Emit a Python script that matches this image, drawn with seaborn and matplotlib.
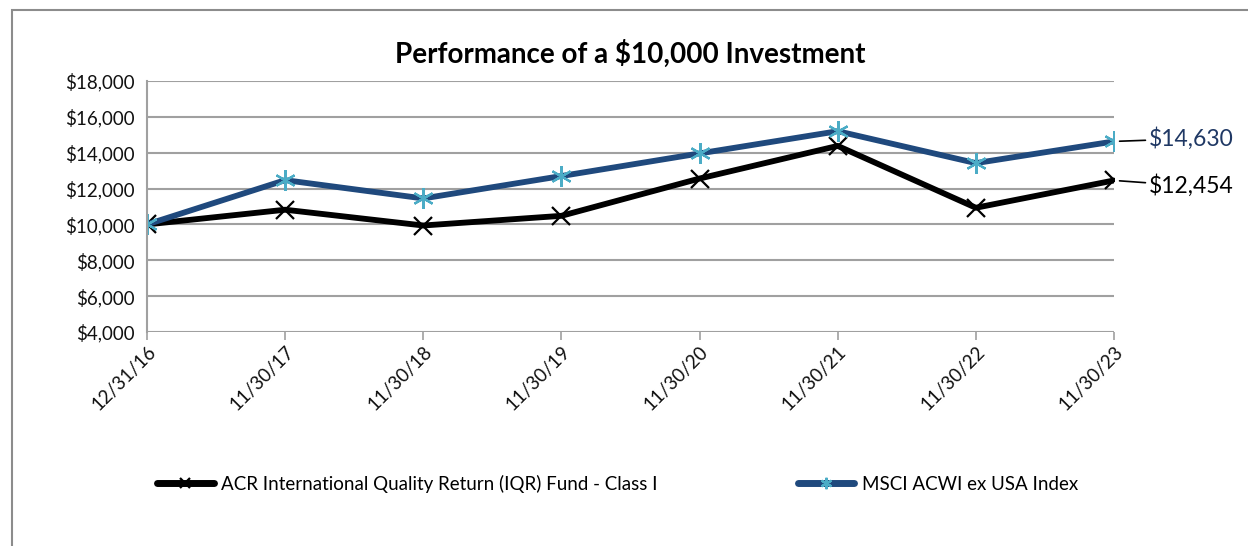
import matplotlib
matplotlib.use("Agg")
import matplotlib.pyplot as plt
from matplotlib.patches import Rectangle
from matplotlib.ticker import FuncFormatter
import seaborn as sns

# data
dates = ["12/31/16", "11/30/17", "11/30/18", "11/30/19",
         "11/30/20", "11/30/21", "11/30/22", "11/30/23"]
fund = [10000, 10820, 9940, 10480, 12560, 14380, 10930, 12454]
msci = [10000, 12470, 11450, 12700, 13960, 15200, 13420, 14630]
fund_name = "ACR International Quality Return (IQR) Fund - Class I"
msci_name = "MSCI ACWI ex USA Index"
yticks = list(range(4000, 18001, 2000))

sns.set_theme(style="white")
plt.rcParams["font.family"] = ["Lato", "DejaVu Sans"]
plt.rcParams["text.color"] = "black"

fig = plt.figure(figsize=(12.48, 5.46), dpi=100)
ax = fig.add_axes([147 / 1248, 1 - 332 / 546, (1114 - 147) / 1248, (332 - 81) / 546])

sns.lineplot(x=dates, y=fund, color="black", lw=4.2, marker="x", markersize=13,
             mec="black", mew=1.6, label=fund_name, ax=ax, sort=False)
sns.lineplot(x=dates, y=msci, color="#1F497D", lw=4.2, marker=(6, 2, 0), markersize=15,
             mec="#4BACC6", mew=1.6, label=msci_name, ax=ax, sort=False)

ax.set_xlim(0, len(dates) - 1)
ax.set_ylim(4000, 18000)
ax.set_yticks(yticks)
ax.yaxis.set_major_formatter(FuncFormatter(lambda v, p: "\\${:,.0f}".format(v)))
ax.grid(axis="y", color="#A0A0A0", lw=1.5)
ax.grid(axis="x", visible=False)
for s in ["top", "right", "bottom"]:
    ax.spines[s].set_visible(False)
ax.spines["left"].set_color("#A0A0A0")
ax.spines["left"].set_linewidth(1.5)
ax.tick_params(axis="y", length=5, width=1.2, color="#A0A0A0", labelsize=13.5, pad=4,
               labelcolor="#111111")
ax.tick_params(axis="x", length=6, width=1.2, color="#A0A0A0", labelsize=13.5, pad=2,
               bottom=True, labelcolor="#111111")
plt.setp(ax.get_xticklabels(), rotation=45, ha="right", rotation_mode="anchor")

ax.set_title("Performance of a \\$10,000 Investment", fontsize=20, fontweight="bold",
             color="black", pad=13)

ax.annotate("\\${:,.0f}".format(msci[-1]), xy=(len(dates) - 1, msci[-1]),
            xytext=(25, 2), textcoords="offset points", va="center", ha="left",
            fontsize=16.5, color="#1F3864", annotation_clip=False,
            arrowprops=dict(arrowstyle="-", color="black", lw=1.2, shrinkA=0, shrinkB=4))
ax.annotate("\\${:,.0f}".format(fund[-1]), xy=(len(dates) - 1, fund[-1]),
            xytext=(25, -4), textcoords="offset points", va="center", ha="left",
            fontsize=16.5, color="black", annotation_clip=False,
            arrowprops=dict(arrowstyle="-", color="black", lw=1.2, shrinkA=0, shrinkB=4))

leg = ax.legend(loc="center", bbox_to_anchor=(0.495, 1 - 484 / 546), bbox_transform=fig.transFigure,
                ncol=2, frameon=False, fontsize=13.5, handlelength=3.0, columnspacing=7.5,
                handletextpad=0.4, markerscale=0.55)
for h in leg.legend_handles:
    h.set_linewidth(5)

fig.add_artist(Rectangle((12 / 1248, -0.1), 2, 1.1 - 10 / 546, transform=fig.transFigure,
                         fill=False, edgecolor="#8C8C8C", lw=1.5))

fig.savefig("out.png", dpi=100)
